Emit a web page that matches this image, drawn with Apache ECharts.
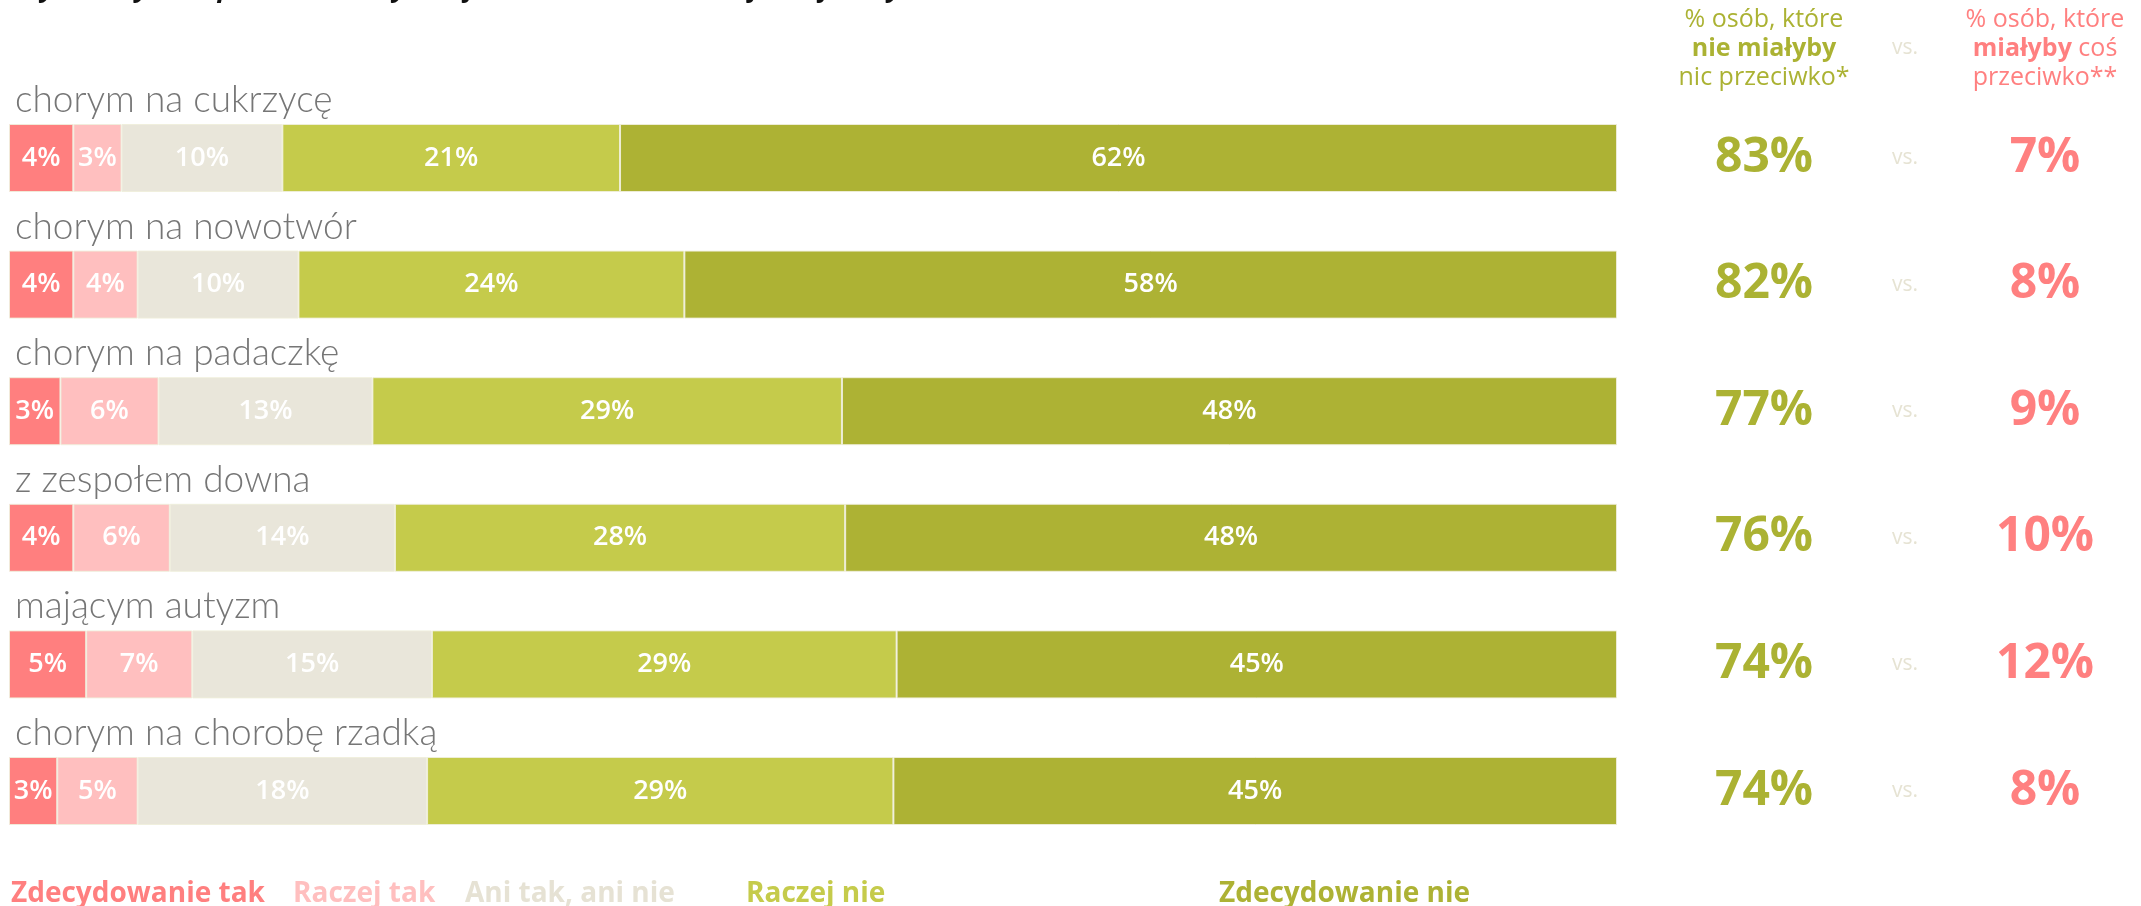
<!DOCTYPE html>
<html>
<head>
<meta charset="utf-8">
<script src="https://cdn.jsdelivr.net/npm/echarts@6/dist/echarts.min.js"></script>
<style>html,body{margin:0;padding:0;background:#fff;}#chart{width:2141px;height:906px;}</style>
</head>
<body>
<div id="chart"></div>
<script>
var categories = ['chorym na cukrzycę', 'chorym na nowotwór', 'chorym na padaczkę', 'z zespołem downa', 'mającym autyzm', 'chorym na chorobę rzadką'];
var seriesNames = ['Zdecydowanie tak', 'Raczej tak', 'Ani tak, ani nie', 'Raczej nie', 'Zdecydowanie nie'];
var zdecydowanieTak = [4, 4, 3.2, 4, 4.8, 3];
var raczejTak = [3, 4, 6.1, 6, 6.6, 5];
var aniTakAniNie = [10, 10, 13.3, 14, 14.9, 18];
var raczejNie = [21, 24, 29.2, 28, 28.9, 29];
var zdecydowanieNie = [62, 58, 48.2, 48, 44.8, 45];
var nieMialybyNic = [83, 82, 77, 76, 74, 74];
var mialybyCos = [7, 8, 9, 10, 12, 8];
var vsLabels = ['vs.', 'vs.', 'vs.', 'vs.', 'vs.', 'vs.'];
var title = 'Czy miałbyś coś przeciwko, aby Twoje dziecko chodziło do jednej klasy z dzieckiem:';

var colors = ['#ff7f7f', '#ffbfbf', '#e9e6da', '#c5cb4b', '#adb234'];
var green = '#abb233', red = '#ff8080', vsColor = '#e6e3d3';
var FONT = '"Open Sans", "Noto Sans", sans-serif';
var seriesData = [zdecydowanieTak, raczejTak, aniTakAniNie, raczejNie, zdecydowanieNie];
var legendLeft = [10, 292, 464, 745, 1218];

var series = seriesNames.map(function (n, i) {
  return {
    name: n, type: 'bar', stack: 'total', barWidth: 68,
    data: seriesData[i],
    itemStyle: { color: colors[i], borderColor: 'rgba(240,238,220,0.9)', borderWidth: 1 },
    label: {
      show: true, position: 'inside', color: '#ffffff',
      fontFamily: FONT, fontSize: 27, fontWeight: 600,
      formatter: function (p) { return Math.round(p.value) + '%'; }
    },
    emphasis: { disabled: true }
  };
});

var legends = seriesNames.map(function (n, i) {
  return {
    data: [{ name: n, textStyle: { color: colors[i] === '#e9e6da' ? '#e6e2d4' : colors[i] } }],
    left: legendLeft[i], top: 880, itemWidth: 0, itemHeight: 0, itemGap: 0, padding: 0,
    selectedMode: false, icon: 'rect',
    textStyle: { fontFamily: FONT, fontSize: 28, fontWeight: 700, padding: [0, 0, 0, -5] }
  };
});

var option = {
  animation: false,
  backgroundColor: '#ffffff',
  title: [
    {
      text: '{n|% osób, które}\n{b|nie miałyby}\n{n|nic przeciwko*}',
      left: 1764, top: 5, textAlign: 'center', padding: 0,
      textStyle: {
        fontWeight: 'normal',
        rich: {
          n: { fontFamily: FONT, fontSize: 25, fontWeight: 'normal', color: green, lineHeight: 29, align: 'center' },
          b: { fontFamily: FONT, fontSize: 25, fontWeight: 700, color: green, lineHeight: 29, align: 'center' }
        }
      }
    },
    {
      text: '{n|% osób, które}\n{b|miałyby}{n| coś}\n{n|przeciwko**}',
      left: 2045, top: 5, textAlign: 'center', padding: 0,
      textStyle: {
        fontWeight: 'normal',
        rich: {
          n: { fontFamily: FONT, fontSize: 25, fontWeight: 'normal', color: red, lineHeight: 29, align: 'center' },
          b: { fontFamily: FONT, fontSize: 25, fontWeight: 700, color: red, lineHeight: 29, align: 'center' }
        }
      }
    },
    {
      text: 'vs.', left: 1905, top: 38, textAlign: 'center', padding: 0,
      textStyle: { fontFamily: FONT, fontSize: 21, fontWeight: 'normal', color: vsColor }
    }
  ],
  graphic: [{
    type: 'text', left: 12, top: -24,
    style: { text: title, fontFamily: FONT, fontSize: 27, fontWeight: 700, fontStyle: 'italic', fill: '#111' }
  }],
  legend: legends,
  grid: { left: 9, right: 524, top: 94.7, bottom: 51.7, containLabel: false },
  xAxis: { type: 'value', min: 0, max: 100, show: false },
  yAxis: [
    {
      type: 'category', inverse: true, data: categories,
      axisLine: { show: false }, axisTick: { show: false }, splitLine: { show: false },
      axisLabel: {
        show: true, interval: 0, hideOverlap: false,
        inside: true, margin: 6, align: 'left', verticalAlign: 'middle',
        formatter: function (v) { return '{t|' + v + '}'; },
        rich: {
          t: { fontFamily: 'Lato, sans-serif', fontWeight: 300, fontSize: 37, color: '#767676', padding: [0, 0, 116, 0] }
        }
      }
    },
    {
      type: 'category', inverse: true, position: 'right', data: nieMialybyNic.map(function (v) { return v + '%'; }),
      axisLine: { show: false }, axisTick: { show: false },
      axisLabel: { interval: 0, margin: 147, align: 'center', fontFamily: FONT, fontSize: 48, fontWeight: 700, color: green }
    },
    {
      type: 'category', inverse: true, position: 'right', data: vsLabels,
      axisLine: { show: false }, axisTick: { show: false },
      axisLabel: { interval: 0, margin: 288, align: 'center', fontFamily: FONT, fontSize: 21, color: vsColor }
    },
    {
      type: 'category', inverse: true, position: 'right', data: mialybyCos.map(function (v) { return v + '%'; }),
      axisLine: { show: false }, axisTick: { show: false },
      axisLabel: { interval: 0, margin: 428, align: 'center', fontFamily: FONT, fontSize: 48, fontWeight: 700, color: red }
    }
  ],
  series: series
};

var chart = echarts.init(document.getElementById('chart'), null, { renderer: 'canvas' });
chart.setOption(option);
</script>
</body>
</html>
